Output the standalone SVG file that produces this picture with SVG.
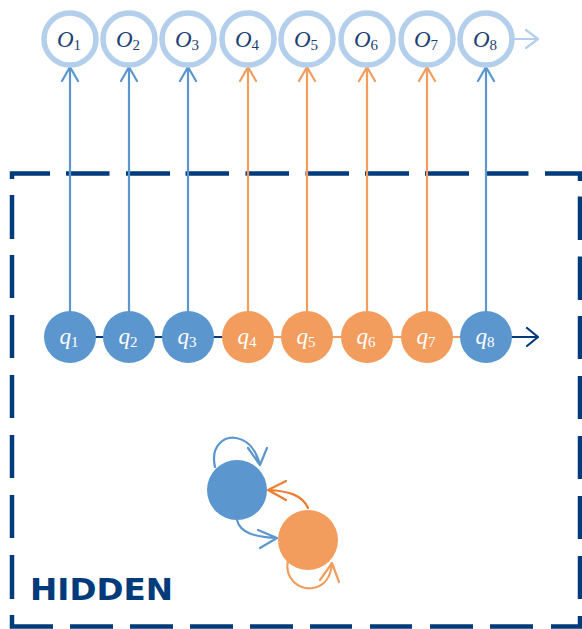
<svg xmlns="http://www.w3.org/2000/svg" width="582" height="629" viewBox="0 0 582 629">
  <style>
    .obs circle { fill: #ffffff; stroke: #B3CFEC; stroke-width: 5.5; }
    .obs text { font-family: "Liberation Serif", "DejaVu Serif", serif; font-style: italic; font-size: 23px; fill: #1E3F73; text-anchor: middle; }
    .st circle { stroke: none; }
    .st text { font-family: "Liberation Serif", "DejaVu Serif", serif; font-style: italic; font-size: 23px; fill: #ffffff; text-anchor: middle; }
    .blue circle { fill: #5B97CE; }
    .orange circle { fill: #F29D5D; }
    .ln { fill: none; stroke-width: 2.2; stroke-linecap: round; stroke-linejoin: round; }
    .b { stroke: #5B97CE; }
    .o { stroke: #F29D5D; }
    .oo { stroke: #ED7D31; }
    .n { stroke: #003B7B; }
    .lb { stroke: #B3CFEC; }
    .sub { font-size: 15px; font-style: normal; }
    .frame { fill: none; stroke: #003B7B; stroke-width: 4.5; stroke-linecap: butt; stroke-linejoin: miter; }
  </style>

  <!-- dashed frame of the hidden layer, one subpath per dash -->
  <g id="hidden-frame">
    <path class="frame" d="
      M12 179 V173.5 H50
      M66 173.5 H109.5 M126 173.5 H170 M185.5 173.5 H229 M245.5 173.5 H289
      M305.5 173.5 H349 M365 173.5 H409 M425 173.5 H469 M485 173.5 H528.5
      M545 173.5 H580 V181
      M580 196.5 V240 M580 256.5 V300 M580 316 V359 M580 376 V419
      M580 436 V479 M580 496 V539 M580 556 V599
      M580 616 V626.5 H551
      M533 626.5 H490 M473 626.5 H430 M412 626.5 H370 M352 626.5 H310
      M293 626.5 H250 M233 626.5 H190 M173 626.5 H130 M113 626.5 H70
      M53 626.5 H12 V615
      M12 599 V555 M12 538 V495 M12 478 V435 M12 418 V375
      M12 358 V315 M12 298 V255 M12 239 V195"/>
    <text x="30" y="600" font-family="'DejaVu Sans', Verdana, sans-serif" font-weight="bold" font-size="30" fill="#003B7B" textLength="143" lengthAdjust="spacingAndGlyphs">HIDDEN</text>
  </g>

  <g id="connectors">
    <!-- observation chain -->
    <path class="ln lb" d="M515 39 H537 M526 30 L538 39 L526 48" stroke-width="2.5"/>
    <!-- hidden chain -->
    <path class="ln n" d="M70 337 H248"/>
    <path class="ln o" d="M248 337 H486"/>
    <path class="ln n" d="M486 337 H537 M527 328 L538 337 L527 346" stroke-width="2.5"/>
    <!-- emissions -->
    <path class="ln b" d="M70 311 V67 M62 81 L70 67 L78 81"/>
    <path class="ln b" d="M129 311 V67 M121 81 L129 67 L137 81"/>
    <path class="ln b" d="M188 311 V67 M180 81 L188 67 L196 81"/>
    <path class="ln o" d="M248 311 V67 M240 81 L248 67 L256 81"/>
    <path class="ln o" d="M307 311 V67 M299 81 L307 67 L315 81"/>
    <path class="ln o" d="M367 311 V67 M359 81 L367 67 L375 81"/>
    <path class="ln o" d="M427 311 V67 M419 81 L427 67 L435 81"/>
    <path class="ln b" d="M486 311 V67 M478 81 L486 67 L494 81"/>
    <!-- transition diagram -->
    <path class="ln b" d="M215 467 C210 445 225 436 236 438 C248 440 256 450 260 465 M248 448 L260 465 L267 448"/>
    <path class="ln b" d="M237 520 C240 533 255 537 277 538 M258 530 L277 538 L260 548"/>
    <path class="ln oo" d="M308 508 C303 496 290 491 268 490 M286 481 L268 490 L286 500"/>
    <path class="ln o" d="M288 560 C284 580 300 590 313 588 C325 586 331 576 332 563 M320 580 L332 563 L339 582"/>
  </g>

  <!-- observed symbols -->
  <g id="O1" class="obs"><circle cx="70" cy="39" r="26"/><text x="69" y="47">O<tspan class="sub" dy="3">1</tspan></text></g>
  <g id="O2" class="obs"><circle cx="129" cy="39" r="26"/><text x="128" y="47">O<tspan class="sub" dy="3">2</tspan></text></g>
  <g id="O3" class="obs"><circle cx="188" cy="39" r="26"/><text x="187" y="47">O<tspan class="sub" dy="3">3</tspan></text></g>
  <g id="O4" class="obs"><circle cx="248" cy="39" r="26"/><text x="247" y="47">O<tspan class="sub" dy="3">4</tspan></text></g>
  <g id="O5" class="obs"><circle cx="307" cy="39" r="26"/><text x="306" y="47">O<tspan class="sub" dy="3">5</tspan></text></g>
  <g id="O6" class="obs"><circle cx="367" cy="39" r="26"/><text x="366" y="47">O<tspan class="sub" dy="3">6</tspan></text></g>
  <g id="O7" class="obs"><circle cx="427" cy="39" r="26"/><text x="426" y="47">O<tspan class="sub" dy="3">7</tspan></text></g>
  <g id="O8" class="obs"><circle cx="486" cy="39" r="26"/><text x="485" y="47" font-size="19">O<tspan class="sub" dy="3">8</tspan></text></g>

  <!-- hidden states -->
  <g id="q1" class="st blue"><circle cx="70" cy="337" r="26"/><text x="69" y="344">q<tspan class="sub" dy="3">1</tspan></text></g>
  <g id="q2" class="st blue"><circle cx="129" cy="337" r="26"/><text x="128" y="344">q<tspan class="sub" dy="3">2</tspan></text></g>
  <g id="q3" class="st blue"><circle cx="188" cy="337" r="26"/><text x="187" y="344">q<tspan class="sub" dy="3">3</tspan></text></g>
  <g id="q4" class="st orange"><circle cx="248" cy="337" r="26"/><text x="247" y="344">q<tspan class="sub" dy="3">4</tspan></text></g>
  <g id="q5" class="st orange"><circle cx="307" cy="337" r="26"/><text x="306" y="344">q<tspan class="sub" dy="3">5</tspan></text></g>
  <g id="q6" class="st orange"><circle cx="367" cy="337" r="26"/><text x="366" y="344">q<tspan class="sub" dy="3">6</tspan></text></g>
  <g id="q7" class="st orange"><circle cx="427" cy="337" r="26"/><text x="426" y="344">q<tspan class="sub" dy="3">7</tspan></text></g>
  <g id="q8" class="st blue"><circle cx="486" cy="337" r="26"/><text x="485" y="344" font-size="19">q<tspan class="sub" dy="3">8</tspan></text></g>

  <!-- two-state transition diagram -->
  <g id="state-blue" class="st blue"><circle cx="237" cy="490" r="30"/></g>
  <g id="state-orange" class="st orange"><circle cx="308" cy="540" r="30"/></g>
</svg>
